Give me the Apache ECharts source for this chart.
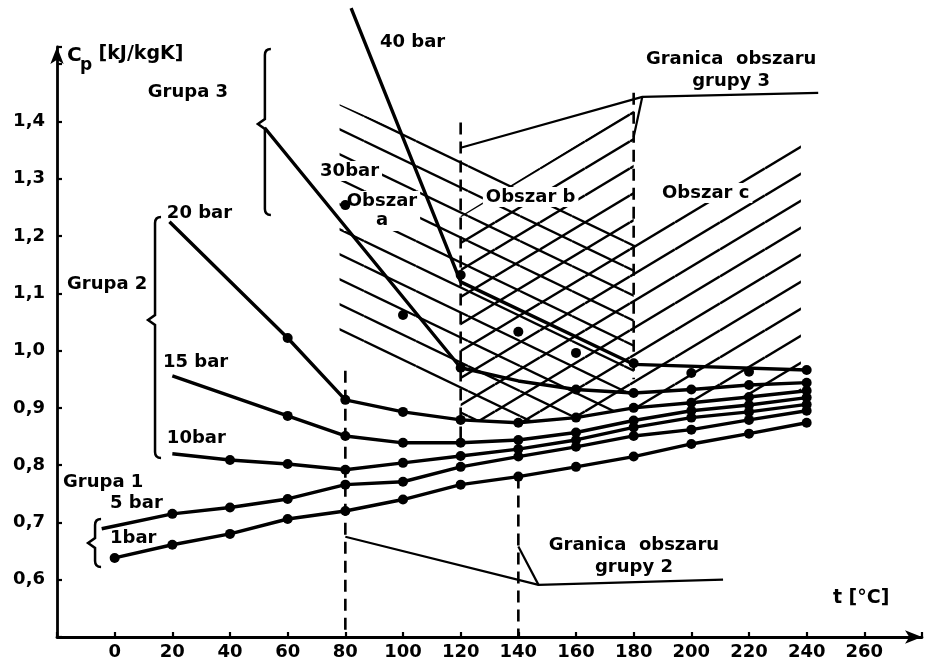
<!DOCTYPE html>
<html>
<head>
<meta charset="utf-8">
<script src="https://cdn.jsdelivr.net/npm/echarts@6.0.0/dist/echarts.min.js"></script>
<style>
html,body{margin:0;padding:0;background:#fff;}
#chart{width:934px;height:664px;}
</style>
</head>
<body>
<div id="chart"></div>
<script>
// ---- tick labels ----
const xTickLabels = [0,20,40,60,80,100,120,140,160,180,200,220,240,260];
const yTickLabels = [0.6,0.7,0.8,0.9,1.0,1.1,1.2,1.3,1.4];

// ---- pressure curves: [t (°C), cp (kJ/kgK)] ----
const bar1Points  = [[0,0.638],[20,0.661],[40,0.680],[60,0.706],[80,0.720],[100,0.740],[120,0.766],[140,0.780],[160,0.797],[180,0.815],[200,0.837],[220,0.855],[240,0.874]];
const bar5Start   = [-4.5,0.689];
const bar5Points  = [[20,0.715],[40,0.726],[60,0.741],[80,0.766],[100,0.771],[120,0.797],[140,0.815],[160,0.832],[180,0.851],[200,0.862],[220,0.879],[240,0.895]];
const bar10Start  = [20,0.820];
const bar10Points = [[40,0.809],[60,0.802],[80,0.792],[100,0.804],[120,0.816],[140,0.828],[160,0.844],[180,0.866],[200,0.883],[220,0.893],[240,0.906]];
const bar15Start  = [20,0.956];
const bar15Points = [[60,0.886],[80,0.851],[100,0.839],[120,0.839],[140,0.844],[160,0.857],[180,0.878],[200,0.895],[220,0.905],[240,0.918]];
const bar20Start  = [19,1.225];
const bar20Points = [[60,1.022],[80,0.914],[100,0.893],[120,0.879],[140,0.874],[160,0.883],[180,0.900],[200,0.909],[220,0.919],[240,0.930]];
const bar30Line   = [[52,1.389],[120,0.970],[140,0.947],[160,0.932],[180,0.926],[200,0.932],[220,0.940],[240,0.944]];
const bar30Points = [[80,1.254],[100,1.062],[120,0.970],[160,0.932],[180,0.926],[200,0.932],[220,0.940],[240,0.944]];
const bar40Line   = [[82,1.598],[120,1.120],[180,0.976],[240,0.966]];
const bar40Points = [[120,1.132],[140,1.033],[160,0.996],[180,0.978],[200,0.961],[220,0.963],[240,0.966]];

// ---- vertical dashed lines: [t, cp top, cp bottom] ----
const dashedLines = [[80,0.965,0.5],[120,1.398,0.84],[140,0.78,0.5],[180,1.45,0.95]];

// ---- region boundaries ----
const border3       = [[120,1.354],[183,1.443],[244,1.450]];
const border3Leader = [[183,1.443],[180,1.373]];
const border2       = [[80,0.675],[147,0.591],[211,0.600]];
const border2Leader = [[140,0.658],[147,0.591]];

// ---- hatched regions (polygon corners in t, cp) ----
const hatchBack = [[78,1.43],[135,1.303],[180,1.21],[180,0.90],[160,0.883],[140,0.874],[120,0.879],[120,0.925],[78,1.02]];
const hatchFwd  = [[120,1.235],[180,1.42],[180,1.207],[238,1.389],[238,0.928],[220,0.919],[200,0.909],[180,0.90],[160,0.883],[140,0.874],[120,0.879]];

// ---- group braces: [t, cp top, cp tip, cp bottom] ----
const braces = [[52.1,1.5265,1.3956,1.2367],[14.0,1.2332,1.0534,0.8125],[-6.8,0.706,0.6641,0.6222]];

// ---- text annotations ----
const annotations = [
  {text:'C', t:-16.5, v:1.5143, size:20},
  {text:'p', t:-12.0, v:1.4968, size:17},
  {text:'[kJ/kgK]', t:-5.6, v:1.5178, size:19},
  {text:'40 bar', t:92.0, v:1.539},
  {text:'30bar', t:70.2, v:1.3135, bg:true},
  {text:'Obszar\na', t:92.7, v:1.2437, align:'center', bg:true, lh:19},
  {text:'Obszar b', t:127.7, v:1.2681, bg:true},
  {text:'Obszar c', t:188.8, v:1.2751, bg:true},
  {text:'Granica  obszaru\ngrupy 3', t:213.8, v:1.4898, align:'center', lh:22},
  {text:'Grupa 3', t:11.5, v:1.4514},
  {text:'20 bar', t:18.1, v:1.2402},
  {text:'Grupa 2', t:-16.5, v:1.1163},
  {text:'15 bar', t:16.75, v:0.980},
  {text:'10bar', t:18.1, v:0.8474},
  {text:'Grupa 1', t:-17.9, v:0.7706},
  {text:'5 bar', t:-1.6, v:0.7339},
  {text:'1bar', t:-1.6, v:0.6728},
  {text:'Granica  obszaru\ngrupy 2', t:180.1, v:0.6414, align:'center', lh:22},
  {text:'t [°C]', t:249.1, v:0.5681, size:19}
];

const FONT = '"DejaVu Sans", "Liberation Sans", sans-serif';

function makeHatch(origin, W, H, down) {
  const c = document.createElement('canvas');
  c.width = W; c.height = H;
  const g = c.getContext('2d');
  g.strokeStyle = '#000';
  g.lineWidth = 2.4;
  const s = H / W;
  let off = down ? origin[1] - s * origin[0] : origin[1] + s * origin[0];
  off = ((off % H) + H) % H;
  for (let k = -2; k <= 2; k++) {
    const y0 = off + k * H;
    g.beginPath();
    g.moveTo(0, y0);
    g.lineTo(W, down ? y0 + H : y0 - H);
    g.stroke();
  }
  return c;
}

function hatchSeries(poly, W, H, down) {
  return {
    type: 'custom', z: 1, silent: true,
    data: [poly[0]],
    renderItem: function (params, api) {
      const pts = poly.map(p => api.coord(p));
      const img = makeHatch(pts[0], W, H, down);
      return { type: 'polygon', shape: { points: pts }, style: { fill: { image: img, repeat: 'repeat' }, stroke: null } };
    }
  };
}

function curveSeries(data, opts) {
  return Object.assign({
    type: 'line', z: 6, silent: true, data: data,
    symbol: 'circle', symbolSize: 10,
    lineStyle: { color: '#000', width: 3.4 },
    itemStyle: { color: '#000', opacity: 1 },
    emphasis: { disabled: true },
    animation: false
  }, opts || {});
}

function startItem(p) { return { value: p, symbol: 'none' }; }

const thin = { showSymbol: false, symbol: 'none', lineStyle: { color: '#000', width: 2.2 } };

const series = [
  hatchSeries(hatchBack, 52, 25, true),
  hatchSeries(hatchFwd, 45, 27, false),
  {
    type: 'custom', z: 3, silent: true,
    data: annotations.map(a => [a.t, a.v]),
    renderItem: function (params, api) {
      const a = annotations[params.dataIndex];
      const p = api.coord([a.t, a.v]);
      return {
        type: 'text', x: p[0], y: p[1],
        style: {
          text: a.text,
          font: 'bold ' + (a.size || 18) + 'px ' + FONT,
          fill: '#000',
          align: a.align || 'left',
          verticalAlign: 'middle',
          lineHeight: a.lh || undefined,
          backgroundColor: a.bg ? '#fff' : undefined,
          padding: a.bg ? [1, 3] : undefined
        }
      };
    }
  },
  {
    type: 'custom', z: 4, silent: true,
    data: braces.map(b => [b[0], b[2]]),
    renderItem: function (params, api) {
      const b = braces[params.dataIndex];
      const top = api.coord([b[0], b[1]]);
      const tip = api.coord([b[0], b[2]]);
      const bot = api.coord([b[0], b[3]]);
      const x = top[0];
      const d = 'M' + (x + 6) + ' ' + top[1] +
        ' Q' + x + ' ' + top[1] + ' ' + x + ' ' + (top[1] + 6) +
        ' L' + x + ' ' + (tip[1] - 5) +
        ' L' + (x - 7) + ' ' + tip[1] +
        ' L' + x + ' ' + (tip[1] + 5) +
        ' L' + x + ' ' + (bot[1] - 6) +
        ' Q' + x + ' ' + bot[1] + ' ' + (x + 6) + ' ' + bot[1];
      return { type: 'path', shape: { pathData: d }, style: { fill: null, stroke: '#000', lineWidth: 2.5 } };
    }
  },
  {
    type: 'custom', z: 5, silent: true,
    data: dashedLines.map(d => [d[0], d[1]]),
    renderItem: function (params, api) {
      const d = dashedLines[params.dataIndex];
      const a = api.coord([d[0], d[1]]);
      const b = api.coord([d[0], d[2]]);
      return { type: 'line', shape: { x1: a[0], y1: a[1], x2: b[0], y2: b[1] }, style: { stroke: '#000', lineWidth: 2.6, lineDash: [12, 7] } };
    }
  },
  curveSeries(border3, thin),
  curveSeries(border3Leader, thin),
  curveSeries(border2, thin),
  curveSeries(border2Leader, thin),
  curveSeries(bar1Points),
  curveSeries([startItem(bar5Start)].concat(bar5Points)),
  curveSeries([startItem(bar10Start)].concat(bar10Points)),
  curveSeries([startItem(bar15Start)].concat(bar15Points)),
  curveSeries([startItem(bar20Start)].concat(bar20Points)),
  curveSeries(bar30Line, { symbol: 'none', showSymbol: false }),
  curveSeries(bar40Line, { symbol: 'none', showSymbol: false, clip: false }),
  { type: 'scatter', z: 7, silent: true, data: bar30Points, symbol: 'circle', symbolSize: 10, itemStyle: { color: '#000', opacity: 1 }, animation: false },
  { type: 'scatter', z: 7, silent: true, data: bar40Points, symbol: 'circle', symbolSize: 10, itemStyle: { color: '#000', opacity: 1 }, animation: false }
];

const axisFont = { fontFamily: FONT, fontWeight: 'bold', fontSize: 18, color: '#000' };

const option = {
  animation: false,
  backgroundColor: '#fff',
  grid: { left: 57, right: 12, top: 47, bottom: 27, containLabel: false },
  xAxis: {
    type: 'value', min: -20, max: 280, interval: 20,
    axisLine: { show: true, onZero: false, symbol: ['none', 'arrow'], symbolSize: [10, 17], lineStyle: { color: '#000', width: 2.8 } },
    axisTick: { show: true, inside: true, length: 5, lineStyle: { color: '#000', width: 2.2 } },
    axisLabel: Object.assign({ margin: 6, formatter: v => xTickLabels.indexOf(Math.round(v)) >= 0 && Math.abs(v - Math.round(v)) < 1e-6 ? String(Math.round(v)) : '' }, axisFont),
    splitLine: { show: false }
  },
  yAxis: {
    type: 'value', min: 0.5, max: 1.53, interval: 0.1,
    axisLine: { show: true, onZero: false, symbol: ['none', 'arrow'], symbolSize: [10, 17], lineStyle: { color: '#000', width: 2.8 } },
    axisTick: { show: true, inside: true, length: 5, lineStyle: { color: '#000', width: 2.2 } },
    axisLabel: Object.assign({ margin: 12, formatter: v => yTickLabels.some(t => Math.abs(t - v) < 1e-6) ? v.toFixed(1).replace('.', ',') : '' }, axisFont),
    splitLine: { show: false }
  },
  series: series
};

const chart = echarts.init(document.getElementById('chart'), null, { renderer: 'canvas' });
chart.setOption(option);
</script>
</body>
</html>
